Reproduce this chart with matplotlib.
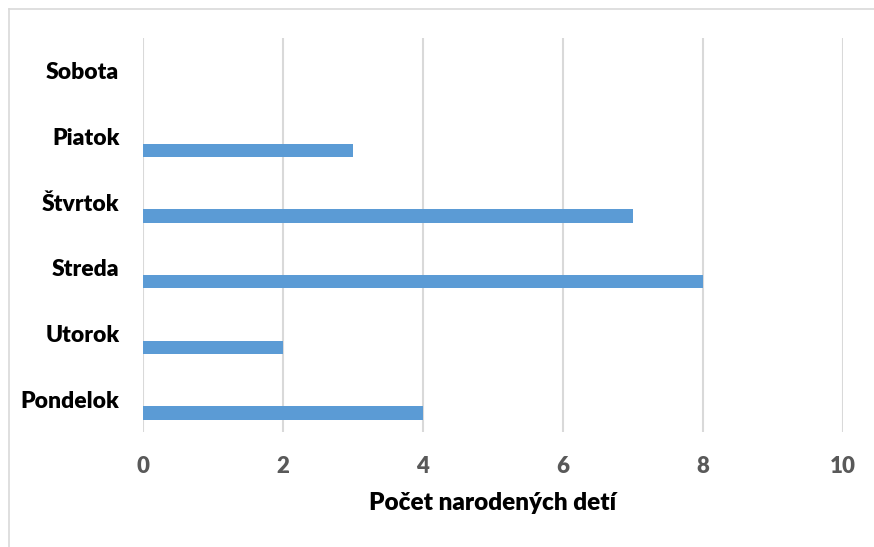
import numpy as np
import matplotlib
matplotlib.use('Agg')
import matplotlib.pyplot as plt
from matplotlib.lines import Line2D

# Data
days = ['Pondelok', 'Utorok', 'Streda', 'Štvrtok', 'Piatok', 'Sobota']
births = [4, 2, 8, 7, 3, 0]
x_ticks = [0, 2, 4, 6, 8, 10]

plt.rcParams['font.family'] = ['Lato', 'DejaVu Sans']
plt.rcParams['font.weight'] = 'heavy'

fig = plt.figure(figsize=(8.74, 5.47), dpi=100)
ax = fig.add_axes([143/874, 1-432/547, 700/874, 394/547])

y_pos = np.arange(len(days))
ax.barh(y_pos - 0.21, births, height=0.2, color='#5b9bd5', zorder=3)

ax.set_xlim(0, 10)
ax.set_ylim(-0.5, len(days) - 0.5)
ax.set_xticks(x_ticks)
ax.set_xticklabels([str(t) for t in x_ticks], fontsize=16, fontweight='heavy', color='#595959')
ax.set_yticks(y_pos)
ax.set_yticklabels(days, fontsize=16.5, fontweight='heavy', color='black')
ax.tick_params(axis='x', length=0, pad=17)
ax.tick_params(axis='y', length=0, pad=17)
ax.grid(axis='x', color='#d9d9d9', linewidth=1.5, zorder=0)
for s in ax.spines.values():
    s.set_visible(False)

ax.set_xlabel('Počet narodených detí', fontsize=17.5, fontweight='heavy', labelpad=11)

# chart area border (top and left visible)
fig.add_artist(Line2D([8.5/874, 8.5/874], [0, 1-9/547], color='#d9d9d9', linewidth=1.2, transform=fig.transFigure))
fig.add_artist(Line2D([8.5/874, 1], [1-9/547, 1-9/547], color='#d9d9d9', linewidth=1.2, transform=fig.transFigure))

fig.savefig('out.png', dpi=100)
